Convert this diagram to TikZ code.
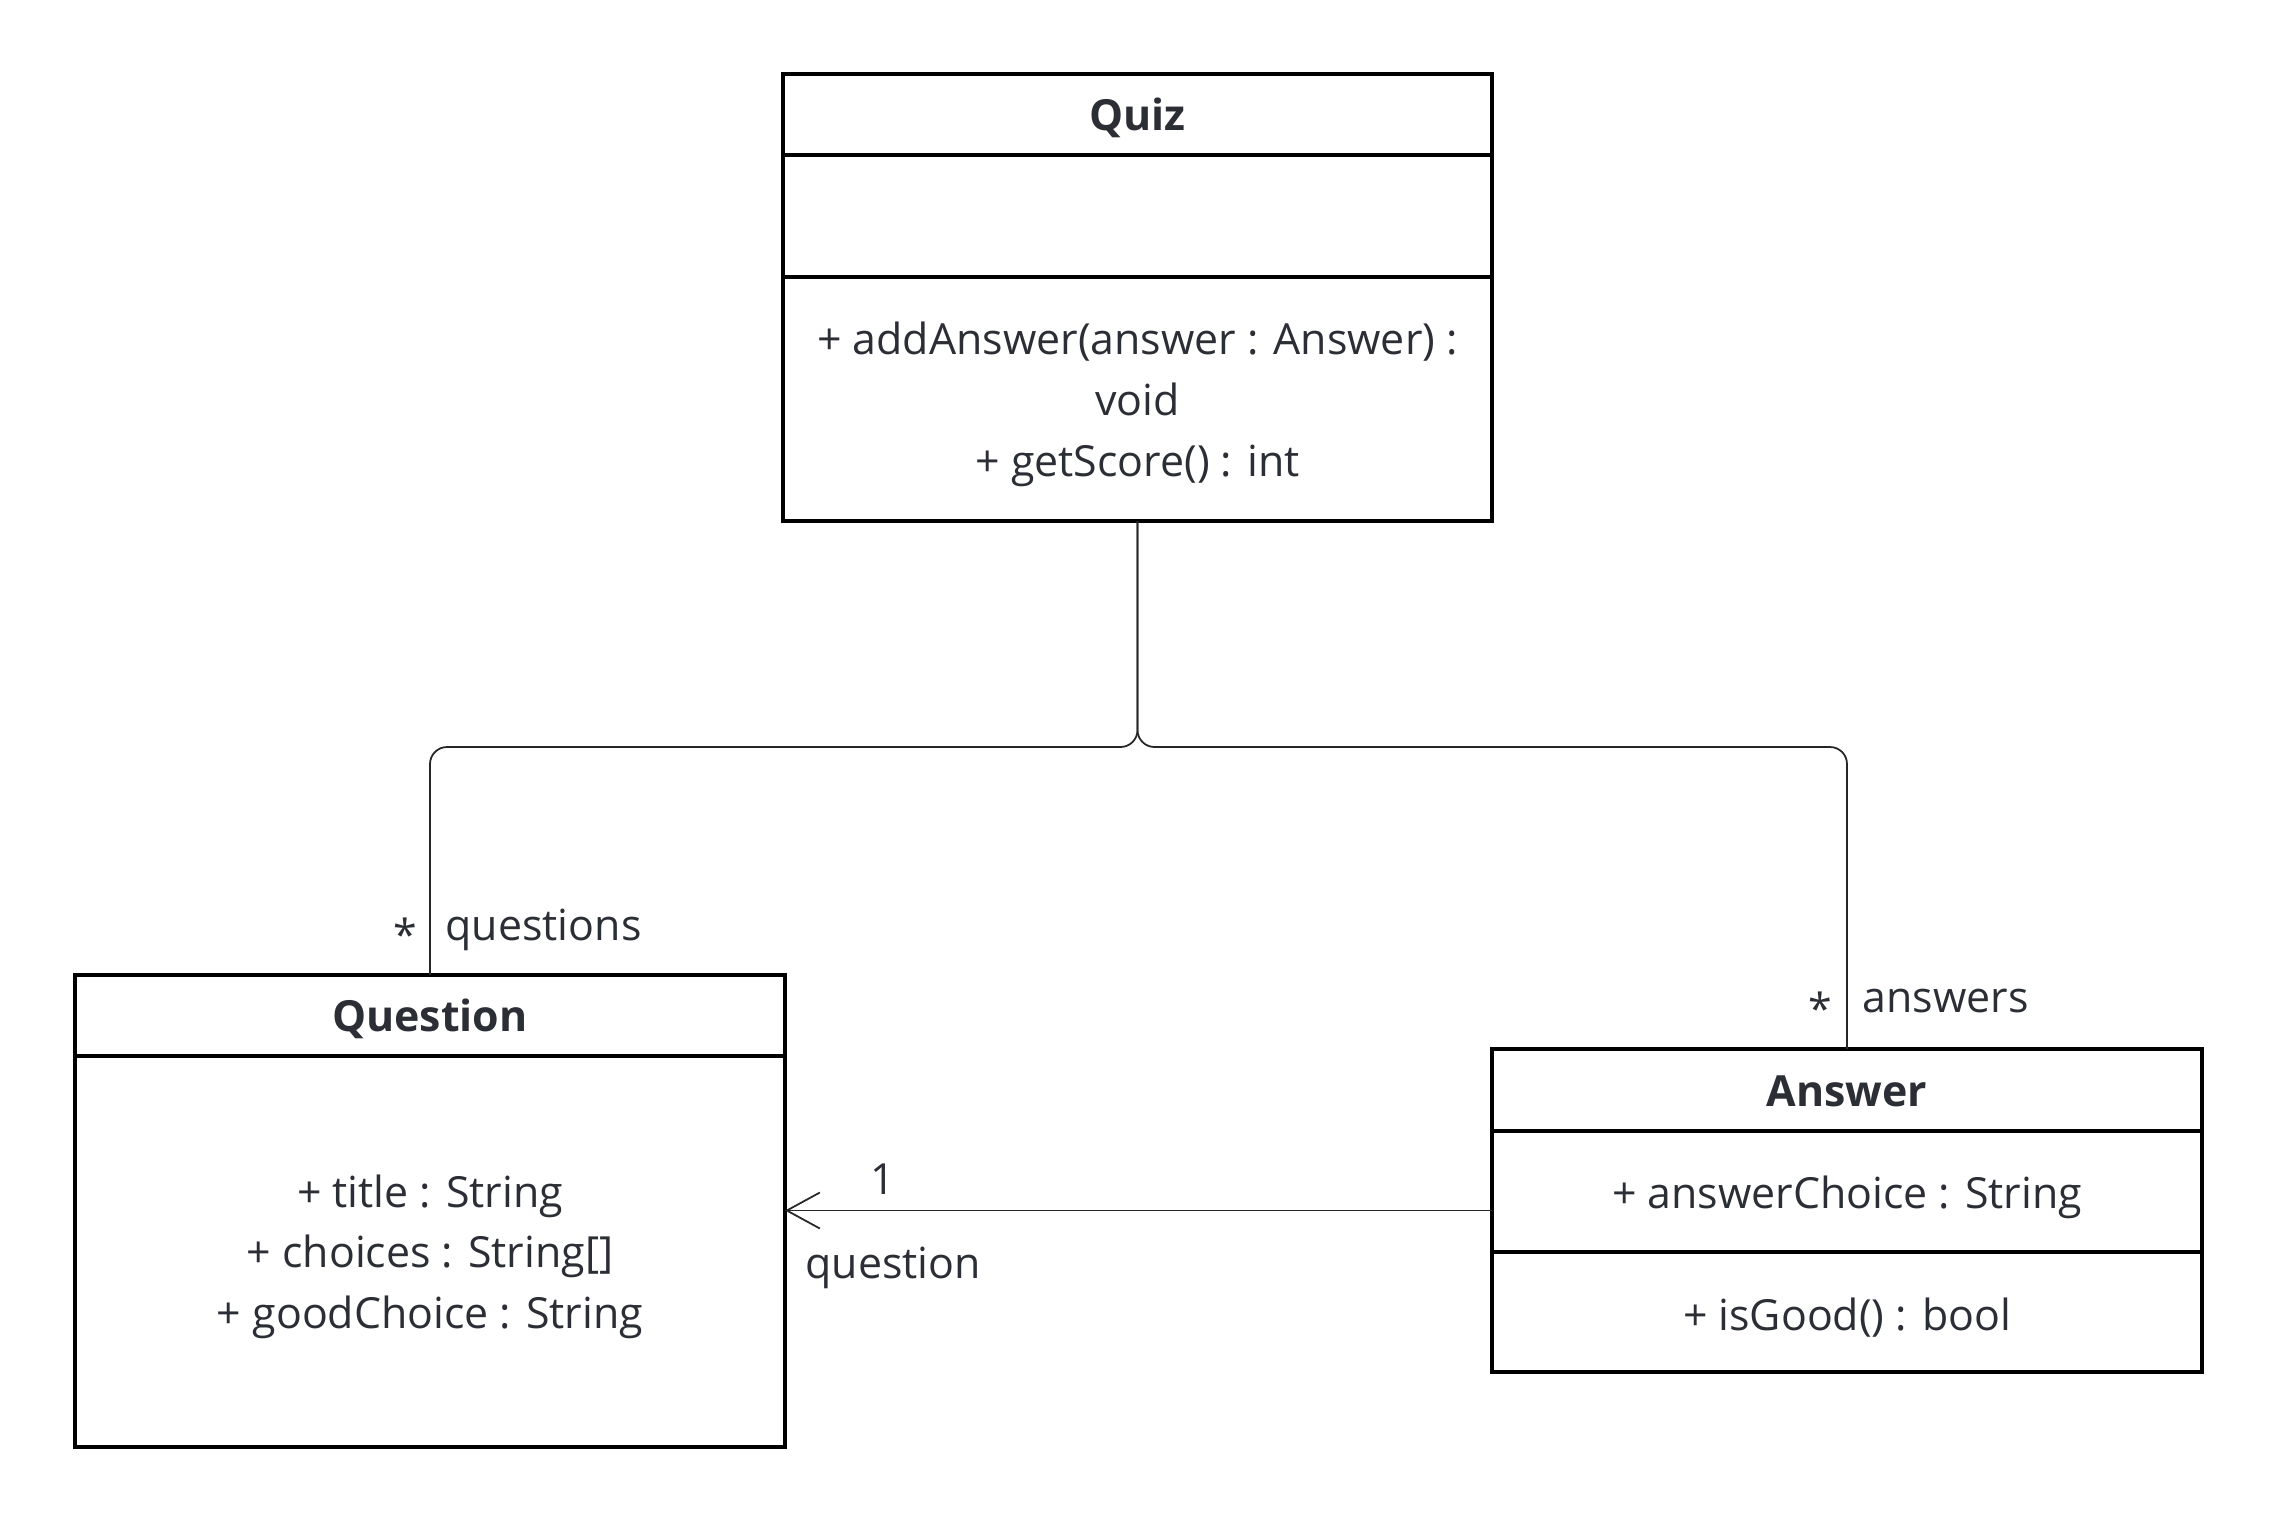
\documentclass[tikz,border=0pt]{standalone}
\usepackage{fontspec}
\setmainfont{Open Sans}
\usepackage{tikz}
\usetikzlibrary{arrows.meta, positioning}
\definecolor{inkgray}{HTML}{2B2E35}
\tikzset{
    classhead/.style = {draw, line width=0.95pt, rectangle, minimum width=7.1cm, minimum height=0.81cm, inner sep=0em, outer sep=0pt,
      text height=11.4pt, text depth=2.2pt, font=\bfseries\fontsize{12.2}{17}\selectfont, text=inkgray, node distance=0em},
    classpart/.style = {draw, line width=0.95pt, rectangle, minimum width=7.1cm, inner sep=0em, outer sep=0pt,
      font=\fontsize{12.2}{17.3}\selectfont, text=inkgray, align=center, node distance=0em,
      execute at begin node={\rule{0pt}{12.4pt}}},
    linespart/.style = {classpart, text depth=-0.4pt},
    textnode/.style = {draw=none, fill=none, rectangle, inner sep=0em, font=\fontsize{12.2}{14}\selectfont, text=inkgray},
    assoc/.style = {black!85, line width=0.5pt, rounded corners=0.17cm},
    navigable/.style = {black!85, line width=0.5pt, -{Straight Barb[length=0.33cm, width=0.36cm]}}
}
\begin{document}
\begin{tikzpicture}
    \useasboundingbox (0,0) rectangle (22.74,-15.23);

    % Quiz
    \node [name=quizhead, classhead, minimum width=7.09cm] at (11.375,-1.145) {Quiz};
    \node [name=quizattr, classpart, below=0pt of quizhead, minimum width=7.09cm, minimum height=1.22cm] {};
    \node [name=quizops, linespart, below=0pt of quizattr, minimum width=7.09cm, minimum height=2.44cm]
      {+ addAnswer(answer : Answer) :\\ void\\ + getScore() : int};

    % Question
    \node [name=questhead, classhead] at (4.30,-10.155) {Question};
    \node [name=questbody, linespart, below=0pt of questhead, minimum height=3.91cm]
      {+ title : String\\ + choices : String[]\\ + goodChoice : String};

    % Answer
    \node [name=anshead, classhead, minimum height=0.82cm] at (18.47,-10.90) {Answer};
    \node [name=ansattr, classpart, below=0pt of anshead, minimum height=1.21cm] {+ answerChoice : String};
    \node [name=ansops, classpart, below=0pt of ansattr, minimum height=1.20cm] {+ isGood() : bool};

    % associations
    \coordinate (fork) at (11.375,-7.47);
    \draw [assoc] (quizops.south) -- (fork) -| (questhead.north);
    \draw [assoc] (quizops.south) -- (fork) -| (anshead.north);
    \coordinate (navstart) at ([yshift=-0.19cm]ansattr.west);
    \draw [navigable] (navstart) -- (navstart -| questbody.east);

    % ends
    \node [name=qmult, textnode, anchor=base] at (4.05,-9.50) {*};
    \node [name=qrole, textnode, anchor=base west] at (4.45,-9.40) {questions};
    \node [name=amult, textnode, anchor=base] at (18.20,-10.24) {*};
    \node [name=arole, textnode, anchor=base west] at (18.62,-10.12) {answers};
    \node [name=nmult, textnode, anchor=base] at (8.83,-11.94) {1};
    \node [name=nrole, textnode, anchor=base west] at (8.05,-12.78) {question};
\end{tikzpicture}
\end{document}
